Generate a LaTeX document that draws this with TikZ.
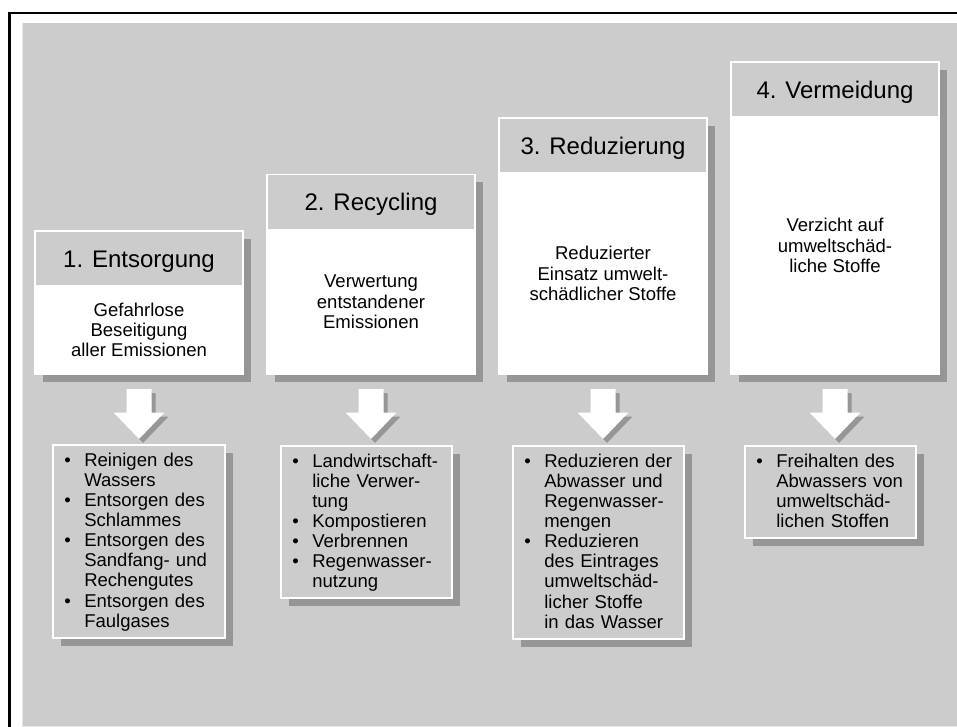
\documentclass[tikz,border=0pt]{standalone}
\usepackage{fontspec}
\setmainfont{Liberation Sans}
\usetikzlibrary{calc,shadows}

\definecolor{panel}{RGB}{204,204,204}
\definecolor{shade}{RGB}{150,150,150}
\definecolor{rim}{RGB}{232,232,232}

% bullet list with hanging indent and no extra vertical space
\newenvironment{dotlist}{%
  \begin{list}{\textbullet}{%
    \setlength\leftmargin{23.25pt}\setlength\labelsep{10pt}%
    \setlength\labelwidth{12pt}\setlength\itemindent{0pt}%
    \setlength\itemsep{0pt}\setlength\parsep{0pt}%
    \setlength\topsep{0pt}\setlength\partopsep{0pt}%
    \setlength\listparindent{0pt}}}%
  {\end{list}}

\tikzset{
  shadowed/.style={drop shadow={fill=shade, opacity=1, shadow xshift=6pt, shadow yshift=-6pt}},
  cardhead/.style={shadowed, anchor=north west, fill=panel, draw=white, line width=0.8pt,
    inner sep=0pt, outer sep=0pt, minimum width=156pt, minimum height=41.25pt,
    text height=12.9pt, text depth=0pt, font=\fontsize{18pt}{21pt}\selectfont},
  cardbody/.style={shadowed, anchor=north, fill=white, draw=white, line width=0.8pt,
    inner sep=0pt, outer sep=0pt, minimum width=156pt, align=center,
    font=\fontsize{13.9pt}{15.2pt}\selectfont},
  listframe/.style={shadowed, anchor=north west, fill=panel, draw=white, line width=0.8pt,
    inner sep=0pt, outer sep=0pt},
  listtext/.style={anchor=base west, inner sep=0pt, text width=128.25pt, align=left,
    font=\fontsize{13.9pt}{15.1pt}\selectfont},
  blockarrow/.style={fill=white, draw=none,
    drop shadow={fill=shade, opacity=1, shadow xshift=3pt, shadow yshift=-3pt}},
}

% one stage: header with title, white body with description
\newcommand\stagecard[6]{%
  \node[cardhead] (#1h) at (#2,#3) {#5};
  \node[cardbody, minimum height=#4*0.75pt] (#1b) at (#1h.south) {#6};
}

% white block arrow hanging below a stage
\newcommand\downblock[1]{%
  \path[blockarrow] ($(#1)+(-12.5,0)$) -- ($(#1)+(12.5,0)$) -- ($(#1)+(12.5,23.5)$)
    -- ($(#1)+(25.5,23.5)$) -- ($(#1)+(0,50)$) -- ($(#1)+(-25.5,23.5)$)
    -- ($(#1)+(-12.5,23.5)$) -- cycle;
}

\begin{document}
\begin{tikzpicture}[x=0.75pt, y=-0.75pt]
\useasboundingbox (0,0) rectangle (957,727);
\clip (0,0) rectangle (957,727);

% frame and grey backdrop
\draw[line width=2pt] (9.5,13) rectangle (990,760);
\fill[panel] (23,23) rectangle (990,760);
\draw[rim, line width=0.6pt] (22.6,22.6) -- (22.6,726.4) -- (990,726.4);

% the four stages
\stagecard{s1}{35}{231}{88}{1. Entsorgung}{Gefahrlose\\Beseitigung\\aller Emissionen}
\stagecard{s2}{267}{174.5}{144.5}{2. Recycling}{Verwertung\\entstandener\\Emissionen}
\stagecard{s3}{499}{118}{201}{3. Reduzierung}{Reduzierter\\Einsatz umwelt-\\schädlicher Stoffe}
\stagecard{s4}{731}{62}{257}{4. Vermeidung}{Verzicht auf\\umweltschäd-\\liche Stoffe}

% arrows below the stages
\foreach \k in {1,2,3,4} {
  \coordinate (a\k) at ($(s\k b.south)+(0,15)$);
}
\downblock{a1}
\downblock{a2}
\downblock{a3}
\downblock{a4}

% measure lists
\node[listframe, minimum width=172*0.75pt, minimum height=193*0.75pt] (l1) at (53,445) {};
\node[listtext] (t1) at ($(l1.north west)+(0,1)$) {\begin{dotlist}
  \item Reinigen des\\Wassers
  \item Entsorgen des\\Schlammes
  \item Entsorgen des\\Sandfang- und\\Rechengutes
  \item Entsorgen des\\Faulgases
\end{dotlist}};

\node[listframe, minimum width=171*0.75pt, minimum height=152*0.75pt] (l2) at (281,446) {};
\node[listtext] (t2) at ($(l2.north west)+(0,1)$) {\begin{dotlist}
  \item Landwirtschaft-\\liche Verwer-\\tung
  \item Kompostieren
  \item Verbrennen
  \item Regenwasser-\\nutzung
\end{dotlist}};

\node[listframe, minimum width=171*0.75pt, minimum height=193*0.75pt] (l3) at (513,446) {};
\node[listtext] (t3) at ($(l3.north west)+(0,1)$) {\begin{dotlist}
  \item Reduzieren der\\Abwasser und\\Regenwasser-\\mengen
  \item Reduzieren\\des Eintrages\\umweltschäd-\\licher Stoffe\\in das Wasser
\end{dotlist}};

\node[listframe, minimum width=171*0.75pt, minimum height=92*0.75pt] (l4) at (745,446) {};
\node[listtext] (t4) at ($(l4.north west)+(0,1)$) {\begin{dotlist}
  \item Freihalten des\\Abwassers von\\umweltschäd-\\lichen Stoffen
\end{dotlist}};
\end{tikzpicture}
\end{document}
